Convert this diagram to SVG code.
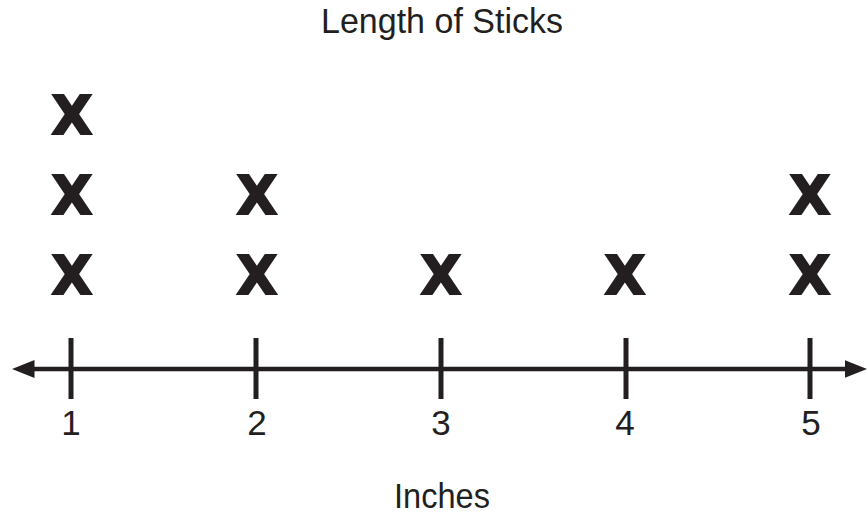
<svg xmlns="http://www.w3.org/2000/svg" width="867" height="515" viewBox="0 0 867 515">
<style>
.lbl{font-family:"Liberation Sans",Arial,sans-serif;font-size:35px;fill:#231f20;text-anchor:middle}
.x{font-family:"DejaVu Sans",sans-serif;font-weight:bold;font-size:53px;fill:#231f20;stroke:#231f20;stroke-width:2;text-anchor:middle}
.tick{stroke:#231f20;stroke-width:5}
</style>
<defs>
<marker id="ah" markerWidth="5" markerHeight="4" refX="1" refY="2" orient="auto-start-reverse" markerUnits="strokeWidth">
<path d="M0,0 L5,2 L0,4 Z" fill="#231f20"/>
</marker>
</defs>
<rect width="867" height="515" fill="#fff"/>
<text class="lbl" x="442" y="33" textLength="242" lengthAdjust="spacingAndGlyphs">Length of Sticks</text>
<g id="connectors">
<line x1="30" y1="369" x2="849" y2="369" stroke="#231f20" stroke-width="4.5" marker-start="url(#ah)" marker-end="url(#ah)"/>
</g>
<g id="axis">
<line class="tick" x1="71" y1="338" x2="71" y2="399"/>
<line class="tick" x1="256" y1="338" x2="256" y2="399"/>
<line class="tick" x1="441" y1="338" x2="441" y2="399"/>
<line class="tick" x1="626" y1="338" x2="626" y2="399"/>
<line class="tick" x1="810" y1="338" x2="810" y2="399"/>
<text class="lbl" x="71" y="435">1</text>
<text class="lbl" x="257" y="435">2</text>
<text class="lbl" x="441" y="435">3</text>
<text class="lbl" x="625" y="435">4</text>
<text class="lbl" x="811" y="435">5</text>
</g>
<g id="col1">
<text class="x" x="72" y="134">X</text>
<text class="x" x="72" y="214">X</text>
<text class="x" x="72" y="294">X</text>
</g>
<g id="col2">
<text class="x" x="257" y="214">X</text>
<text class="x" x="257" y="294">X</text>
</g>
<g id="col3">
<text class="x" x="441" y="294">X</text>
</g>
<g id="col4">
<text class="x" x="625" y="294">X</text>
</g>
<g id="col5">
<text class="x" x="810" y="214">X</text>
<text class="x" x="810" y="294">X</text>
</g>
<text class="lbl" x="442" y="508" textLength="96" lengthAdjust="spacingAndGlyphs">Inches</text>
</svg>
